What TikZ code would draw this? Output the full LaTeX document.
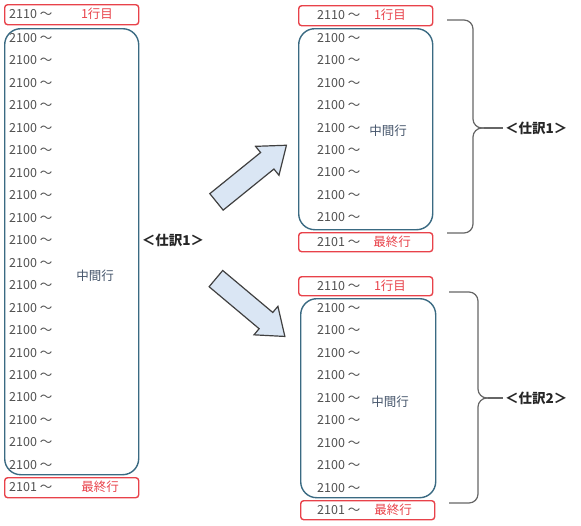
\documentclass[tikz,border=0pt]{standalone}
\usepackage{fontspec}
\setmainfont{Noto Sans CJK JP}
\usepackage{xcolor}
\usetikzlibrary{shapes.arrows,positioning,calc}
\definecolor{redline}{RGB}{232,66,74}
\definecolor{tealline}{RGB}{58,106,130}
\definecolor{arrowfill}{RGB}{218,230,244}
\definecolor{textgray}{RGB}{80,80,80}
\definecolor{midtext}{RGB}{68,84,106}

\begin{document}
\begin{tikzpicture}[x=1pt,y=-1pt,every node/.style={font=\fontsize{12.5}{14}\selectfont,text=textgray,inner sep=0pt},
  redbox/.style={draw=redline,line width=1.4pt,rounded corners=3pt,anchor=north west,minimum width=134,minimum height=20},
  bluebox/.style={draw=tealline,line width=1.4pt,rounded corners=16pt,anchor=north west,minimum width=134},
  rowtext/.style={anchor=west},
  redtxt/.style={text=redline},
  midtxt/.style={text=midtext},
  nametxt/.style={text=black!85,font=\fontsize{13.5}{15}\selectfont\bfseries},
  bigarrow/.style={single arrow,draw=black!75,line width=1.2pt,fill=arrowfill,inner sep=10pt,single arrow head extend=8pt,single arrow tip angle=74,minimum height=90},
  bracepen/.style={draw=black!60,line width=1.2pt,rounded corners=9pt}]
\useasboundingbox (0,0) rectangle (581,525);
% left column
\node[redbox] (lfirst) at (4,4) {};
\node[rowtext] (lfirstnum) at (9,14) {2110 ～};
\node[redtxt] (lfirstlbl) at (97,14) {1行目};
\node[bluebox,minimum height=446] (lmid) at (4,28) {};
\foreach \i in {1,...,20} \node[rowtext] (l\i) at (9,{38+22.47*(\i-1)}) {2100 ～};
\node[midtxt] (lmidlbl) at (95,276) {中間行};
\node[redbox] (llast) at (4,477) {};
\node[rowtext] (llastnum) at (9,487) {2101 ～};
\node[redtxt] (llastlbl) at (100,487) {最終行};
\node[nametxt] (lname) at (173,240) {＜仕訳1＞};
% arrows
\node[bigarrow,rotate=39] (toup) at (246,178) {};
\node[bigarrow,rotate=-40] (todown) at (245,303) {};
% right upper group
\node[redbox] (afirst) at (298,5) {};
\node[rowtext] (afirstnum) at (317,15) {2110 ～};
\node[redtxt] (afirstlbl) at (390,15) {1行目};
\node[bluebox,minimum height=201] (amid) at (298,28) {};
\foreach \i in {1,...,9} \node[rowtext] (a\i) at (317,{38+22.4*(\i-1)}) {2100 ～};
\node[midtxt] (amidlbl) at (388,131) {中間行};
\node[redbox,minimum height=19] (alast) at (298,232) {};
\node[rowtext] (alastnum) at (317,242) {2101 ～};
\node[redtxt] (alastlbl) at (392,242) {最終行};
\coordinate (atop) at (447,20);
\coordinate (abot) at (447,233);
\coordinate (atip) at (503,128);
\draw[bracepen] (atop) -- (473,20) -- (473,128) -- (490,128);
\draw[bracepen] (abot) -- (473,233) -- (473,128) -- (490,128);
\draw[draw=black!60,line width=1.2pt] (484,128) -- (atip);
\node[nametxt,anchor=west] (aname) at (505,128) {＜仕訳1＞};
% right lower group
\node[redbox,minimum height=19] (bfirst) at (298,276) {};
\node[rowtext] (bfirstnum) at (317,286) {2110 ～};
\node[redtxt] (bfirstlbl) at (390,286) {1行目};
\node[bluebox,minimum height=199,minimum width=135] (bmid) at (300,298) {};
\foreach \i in {1,...,9} \node[rowtext] (b\i) at (317,{308+22.5*(\i-1)}) {2100 ～};
\node[midtxt] (bmidlbl) at (390,402) {中間行};
\node[redbox,minimum height=19] (blast) at (300,500) {};
\node[rowtext] (blastnum) at (317,510) {2101 ～};
\node[redtxt] (blastlbl) at (393,510) {最終行};
\coordinate (btop) at (449,292);
\coordinate (bbot) at (449,503);
\coordinate (btip) at (503,398);
\draw[bracepen] (btop) -- (478,292) -- (478,398) -- (494,398);
\draw[bracepen] (bbot) -- (478,503) -- (478,398) -- (494,398);
\draw[draw=black!60,line width=1.2pt] (488,398) -- (btip);
\node[nametxt,anchor=west] (bname) at (505,398) {＜仕訳2＞};
\end{tikzpicture}
\end{document}
